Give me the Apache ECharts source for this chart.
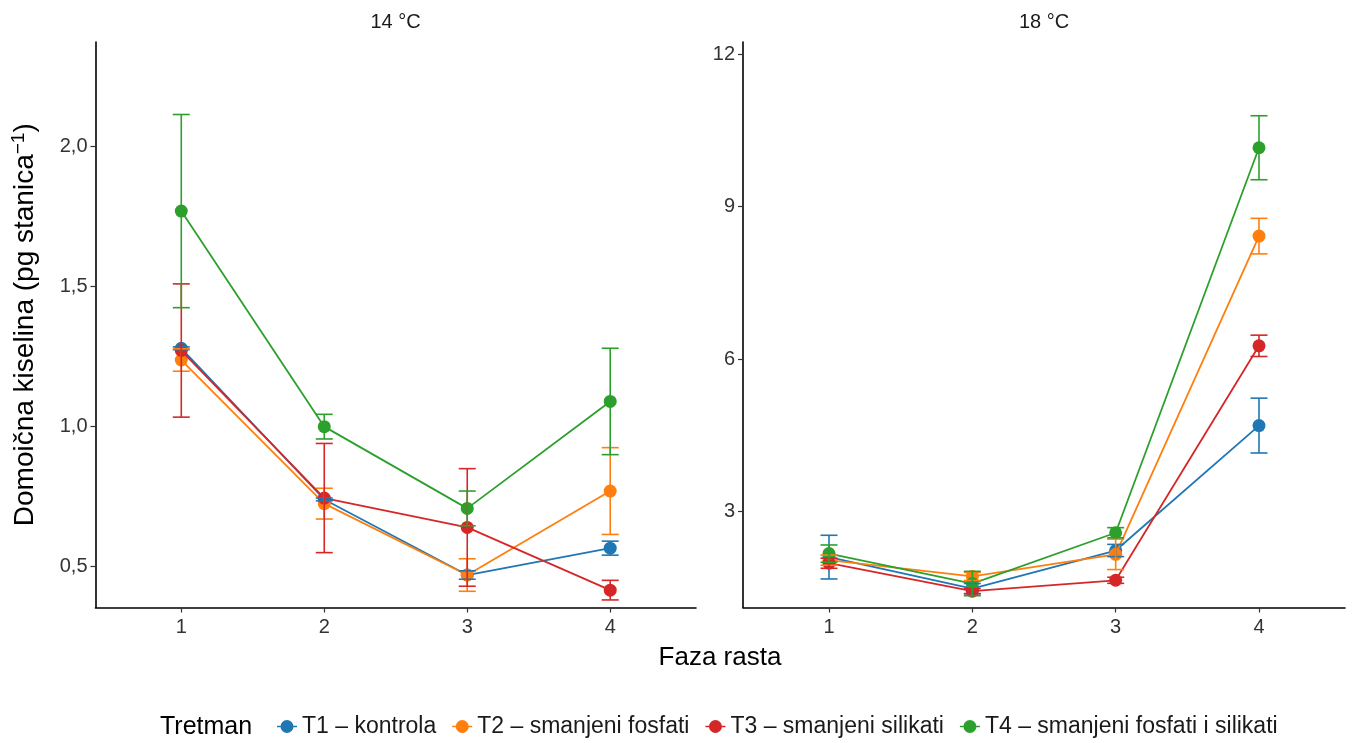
<!DOCTYPE html>
<html>
<head>
<meta charset="utf-8">
<script src="https://cdn.jsdelivr.net/npm/echarts@6/dist/echarts.min.js"></script>
<style>
  html, body { margin: 0; padding: 0; background: #fff; }
  #chart { width: 1355px; height: 743px; }
</style>
</head>
<body>
<div id="chart"></div>
<script>
// Growth phases on the x axis
const phases = [1, 2, 3, 4];
const panelTitles = ['14 °C', '18 °C'];
const treatments = ['T1 – kontrola', 'T2 – smanjeni fosfati', 'T3 – smanjeni silikati', 'T4 – smanjeni fosfati i silikati'];
const colors = ['#1f77b4', '#ff7f0e', '#d62728', '#2ca02c'];

// Means and standard errors, 14 °C
const mean14T1 = [1.280, 0.740, 0.470, 0.566];
const mean14T2 = [1.238, 0.725, 0.470, 0.770];
const mean14T3 = [1.272, 0.745, 0.640, 0.416];
const mean14T4 = [1.770, 1.000, 0.708, 1.090];
const se14T1 = [0.005, 0.005, 0.015, 0.025];
const se14T2 = [0.040, 0.055, 0.058, 0.155];
const se14T3 = [0.238, 0.195, 0.210, 0.035];
const se14T4 = [0.345, 0.044, 0.062, 0.190];

// Means and standard errors, 18 °C
const mean18T1 = [2.10, 1.48, 2.23, 4.69];
const mean18T2 = [2.04, 1.72, 2.155, 8.42];
const mean18T3 = [1.98, 1.43, 1.644, 6.26];
const mean18T4 = [2.169, 1.58, 2.58, 10.16];
const se18T1 = [0.43, 0.10, 0.12, 0.54];
const se18T2 = [0.10, 0.08, 0.30, 0.35];
const se18T3 = [0.10, 0.05, 0.06, 0.21];
const se18T4 = [0.17, 0.24, 0.10, 0.63];

// Axis tick labels
const yTicks14 = [0.5, 1.0, 1.5, 2.0];
const yTicks18 = [3, 6, 9, 12];

const means = [[mean14T1, mean14T2, mean14T3, mean14T4], [mean18T1, mean18T2, mean18T3, mean18T4]];
const ses = [[se14T1, se14T2, se14T3, se14T4], [se18T1, se18T2, se18T3, se18T4]];

const FONT = 'Liberation Sans, Arial, sans-serif';
const chart = echarts.init(document.getElementById('chart'), null, { renderer: 'canvas' });

function commaFmt(v) { return (Math.round(v * 10) / 10).toFixed(1).replace('.', ','); }

function xAxisFor(gi) {
  return {
    type: 'value', gridIndex: gi, min: 0.4, max: 4.6,
    axisLine: { show: true, lineStyle: { color: '#000', width: 1.6 } },
    axisTick: { show: true, customValues: phases, length: 5, lineStyle: { color: '#333', width: 1.2 } },
    axisLabel: { customValues: phases, color: '#333', fontSize: 20, fontFamily: FONT, margin: 10 },
    splitLine: { show: false }
  };
}

// Legend key: a point with a short line through it
const keyIcon = 'path://M0,5.8L20,5.8L20,7.2L0,7.2Z M16.5,6.5A6.5,6.5 0 1,1 3.5,6.5A6.5,6.5 0 1,1 16.5,6.5Z';

const option = {
  animation: false,
  backgroundColor: '#fff',
  grid: [
    { left: 95.5, top: 42, width: 600.5, height: 565.5 },
    { left: 743, top: 42, width: 602, height: 565.5 }
  ],
  xAxis: [xAxisFor(0), xAxisFor(1)],
  yAxis: [
    {
      type: 'value', gridIndex: 0, min: 0.354, max: 2.374,
      name: 'Domoična kiselina (pg stanica{sup|−1})',
      nameLocation: 'middle', nameGap: 54, nameRotate: 90,
      nameTextStyle: {
        fontSize: 28, color: '#000', fontFamily: FONT, lineHeight: 32,
        rich: { sup: { fontSize: 19, fontFamily: FONT, color: '#000', verticalAlign: 'top', lineHeight: 32 } }
      },
      axisLine: { show: true, lineStyle: { color: '#000', width: 1.6 } },
      axisTick: { show: true, customValues: yTicks14, length: 5, lineStyle: { color: '#333', width: 1.2 } },
      axisLabel: { customValues: yTicks14, formatter: commaFmt, color: '#333', fontSize: 20, fontFamily: FONT, margin: 8 },
      splitLine: { show: false }
    },
    {
      type: 'value', gridIndex: 1, min: 1.108, max: 12.242,
      axisLine: { show: true, lineStyle: { color: '#000', width: 1.6 } },
      axisTick: { show: true, customValues: yTicks18, length: 5, lineStyle: { color: '#333', width: 1.2 } },
      axisLabel: { customValues: yTicks18, color: '#333', fontSize: 20, fontFamily: FONT, margin: 8 },
      splitLine: { show: false }
    }
  ],
  legend: {
    left: 277, top: 715, padding: 0, itemGap: 16,
    itemWidth: 20, itemHeight: 13,
    textStyle: { fontSize: 23, color: '#1a1a1a', fontFamily: FONT },
    data: treatments.map((t, i) => ({
      name: t,
      icon: keyIcon,
      itemStyle: { color: colors[i] }
    }))
  },
  graphic: [
    { type: 'text', x: 395.5, y: 22, style: { text: panelTitles[0], font: '20px ' + FONT, fill: '#1a1a1a', textAlign: 'center', textVerticalAlign: 'middle' } },
    { type: 'text', x: 1044, y: 22, style: { text: panelTitles[1], font: '20px ' + FONT, fill: '#1a1a1a', textAlign: 'center', textVerticalAlign: 'middle' } },
    { type: 'text', x: 720, y: 658, style: { text: 'Faza rasta', font: '26px ' + FONT, fill: '#000', textAlign: 'center', textVerticalAlign: 'middle' } },
    { type: 'text', x: 160, y: 727, style: { text: 'Tretman', font: '25px ' + FONT, fill: '#000', textAlign: 'left', textVerticalAlign: 'middle' } }
  ],
  series: []
};

// Error bar: vertical segment with caps, drawn through the axis scales
function renderErr(params, api) {
  const x = api.value(0);
  const lo = api.coord([x, api.value(2)]);
  const hi = api.coord([x, api.value(3)]);
  const hw = 8.5;
  const style = { stroke: api.visual('color'), lineWidth: 1.6, fill: null };
  return {
    type: 'group',
    children: [
      { type: 'line', shape: { x1: lo[0], y1: lo[1], x2: hi[0], y2: hi[1] }, style },
      { type: 'line', shape: { x1: lo[0] - hw, y1: lo[1], x2: lo[0] + hw, y2: lo[1] }, style },
      { type: 'line', shape: { x1: hi[0] - hw, y1: hi[1], x2: hi[0] + hw, y2: hi[1] }, style }
    ]
  };
}

for (let p = 0; p < 2; p++) {
  for (let t = 0; t < 4; t++) {
    option.series.push({
      name: treatments[t], type: 'line', xAxisIndex: p, yAxisIndex: p,
      data: phases.map((ph, k) => [ph, means[p][t][k]]),
      color: colors[t],
      lineStyle: { width: 1.8, color: colors[t] },
      itemStyle: { color: colors[t] },
      symbol: 'circle', symbolSize: 13, showSymbol: true,
      z: 2 + t * 0.01, emphasis: { disabled: true }
    });
  }
}
for (let p = 0; p < 2; p++) {
  for (let t = 0; t < 4; t++) {
    option.series.push({
      id: 'err-' + p + '-' + t, type: 'custom', xAxisIndex: p, yAxisIndex: p,
      renderItem: renderErr,
      itemStyle: { color: colors[t] },
      encode: { x: 0, y: [2, 3] },
      data: phases.map((ph, k) => [ph, means[p][t][k], means[p][t][k] - ses[p][t][k], means[p][t][k] + ses[p][t][k]]),
      z: 5, silent: true
    });
  }
}

chart.setOption(option);
</script>
</body>
</html>
